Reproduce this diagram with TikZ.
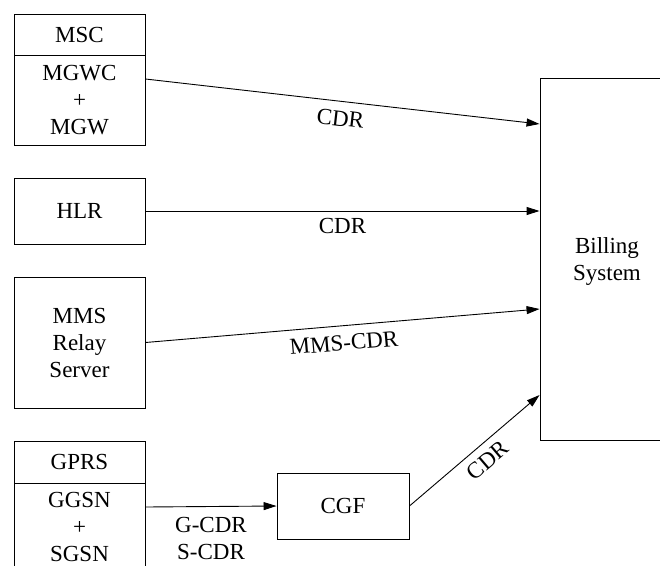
\documentclass[tikz,border=0pt]{standalone}
\usepackage{fontspec}
\setmainfont{Liberation Serif}
\usetikzlibrary{arrows.meta}

\begin{document}
\begin{tikzpicture}[x=1pt,y=-1pt,
  every node/.style={font=\rmfamily\fontsize{23}{27}\selectfont},
  box/.style={draw, line width=0.9pt, inner sep=0pt, align=center,
              minimum width=131pt},
  link/.style={line width=0.9pt, -{Triangle[length=13pt,width=8pt]}},
  lbl/.style={inner sep=1pt, align=center}]
  \clip (0,0) rectangle (660,565);
  \fill[white] (0,0) rectangle (660,565);

  % MSC with its MGWC + MGW part
  \node[box, minimum height=41pt] (msc) at (79.5,34.5) {MSC};
  \node[box, minimum height=90pt] (mgw) at (79.5,100) {MGWC\\+\\MGW};

  % HLR
  \node[box, minimum height=66pt] (hlr) at (79.5,211) {HLR};

  % MMS relay server
  \node[box, minimum height=131pt] (mms) at (79.5,342.5) {MMS\\Relay\\Server};

  % GPRS with its GGSN + SGSN part
  \node[box, minimum height=42pt] (gprs) at (79.5,462) {GPRS};
  \node[box, minimum height=88pt] (gsn) at (79.5,527) {GGSN\\+\\SGSN};

  % charging gateway
  \node[box, minimum width=132pt, minimum height=66pt] (cgf) at (343,506) {CGF};

  % billing system
  \node[box, minimum width=136pt, minimum height=362pt] (bill) at (608,259) {};
  \node[lbl] (billtxt) at (607,261) {Billing\\System};

  % CDR flows
  \draw[link] ([yshift=21pt]mgw.east) -- node[lbl, sloped, below=8pt, pos=0.5] (l1) {CDR} ([yshift=135pt]bill.west);
  \draw[link] (hlr.east) -- node[lbl, below=6pt, pos=0.5] (l2) {CDR} ([yshift=48pt]bill.west);
  \draw[link] (mms.east) -- node[lbl, sloped, below=8pt, pos=0.5] (l3) {MMS-CDR} ([yshift=-50pt]bill.west);
  \draw[link] ([yshift=20pt]gsn.east) -- node[lbl, below=9pt, pos=0.5] (l4) {G-CDR\\S-CDR} (cgf.west);
  \draw[link] (cgf.east) -- node[lbl, sloped, below=7pt, pos=0.52] (l5) {CDR} ([yshift=-136pt]bill.west);
\end{tikzpicture}
\end{document}
